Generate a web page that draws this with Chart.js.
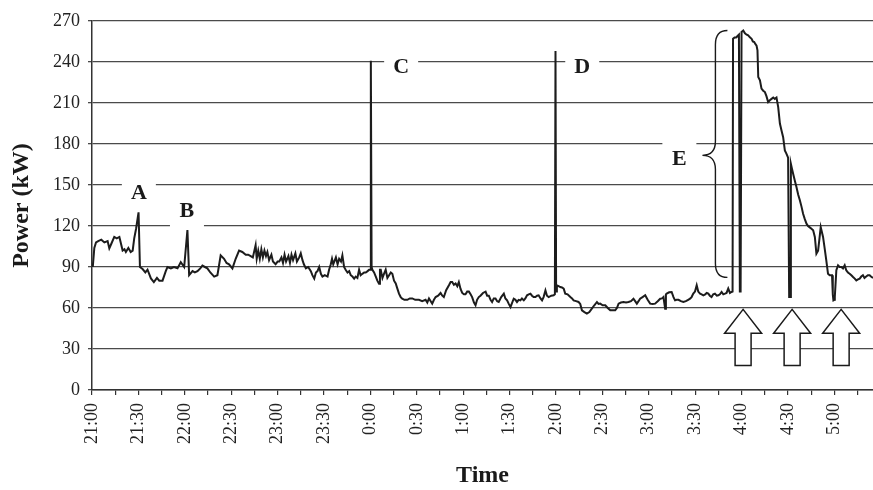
<!DOCTYPE html>
<html>
<head>
<meta charset="utf-8">
<script src="https://cdn.jsdelivr.net/npm/chart.js@4.4.1/dist/chart.umd.min.js"></script>
<style>
  html, body { margin: 0; padding: 0; background: #ffffff; }
  #c { display: block; }
</style>
</head>
<body>
<canvas id="c" width="873" height="490"></canvas>
<script>
// ---- data (minutes after 21:00, power in kW) ----
const minutes = [
  0.5, 1.5, 2.6, 4, 6, 8, 10.1, 11.2, 12.5, 14.4, 16, 17.7, 19.8, 21, 21.9, 23.5, 25, 26.3, 27.3, 28.5,
  30.1, 31, 32.7, 34.5, 35.9, 38.1, 40, 42, 43.5, 45.6, 47.7, 48.8, 51, 53, 55.3, 57.4, 59.6, 61.7, 62.8, 65,
  66.5, 68.2, 70, 71.4, 73, 74.6, 76.5, 79, 81.1, 83.2, 85.4, 87, 88.6, 90.8, 92.9, 95.1, 97.2, 99.4, 101, 102.6,
  104, 105.8, 106.5, 107.5, 108.5, 109.5, 110.5, 111.5, 112.5, 113.4, 114.5, 116, 117, 118.7, 120,
  121.1, 122.5, 123.5, 124.5, 125.5, 127, 128, 129, 130, 131.5, 132.5, 134, 135, 136.1, 137, 138.3, 139.8, 141.5, 142.5, 143.7,
  144.8, 145.8, 146.9, 148, 149, 150.5, 152.3, 153.3, 154.4, 155.2, 156, 157.7, 158.8, 159.8, 161, 161.9, 163, 164, 165.2, 166.3,
  167.3, 168.4, 169.5, 170.5, 171.6, 172.7, 173.7, 174.8, 176, 177, 178.2, 179.2, 179.8, 180.3, 180.8, 181.3, 182.4, 183.5, 184.5, 185.6,
  186.2, 186.7, 187.8, 188.8, 189.9, 191, 192.1, 193.2, 194.2, 195.3, 196.4, 197.5, 198.5, 199.6, 200.6, 202, 203.9, 205.5, 207.1, 209,
  211.4, 213.5, 215.7, 216.8, 217.9, 219, 220, 221.1, 222.2, 223.8, 225.4, 226.5, 227.5, 229, 230.8, 231.9, 232.9, 234, 235.1, 236.2,
  237.2, 238.3, 239.4, 240.5, 241.5, 242.6, 243.7, 244.8, 245.8, 247, 248, 249, 250.1,
  251.2, 252.8, 254.5, 255.5, 256.6, 257.7, 258.7, 259.8, 260.9, 262, 263, 264.6, 266.3, 267.3, 268.4, 269.5, 270.6, 271.7, 272.7, 273.8,
  274.8, 275.9, 277, 278, 279.2, 280.2, 281.3, 282.4, 283.5, 284.5, 285.6, 286.7, 287.8, 288.8, 290, 291, 292, 293.2, 294.2, 295.3,
  297, 298.5, 299.3, 299.7, 300.1, 300.6, 301.7, 302.8, 303.9, 305, 306, 307.5, 309.3, 310.4, 311.4, 313, 314.6, 315.7, 316.8, 318.4,
  320, 321.6, 323.2, 324.8, 326.5, 327.5, 328.6, 330.2, 331.9, 333.5, 335.1, 336.7, 338.3, 339.4, 340.5, 342, 343.7, 345.3, 346.9, 348.5,
  350.1, 351.2, 352.3, 353.4, 354.4, 356, 357.7, 359.3, 360.9, 362.5, 364.1, 365.8, 367.4, 368.5, 369.5, 370.6, 371.1, 371.6, 373.2, 374.8,
  376, 377, 378, 379.2, 380.8, 382.4, 384, 385.5, 386.7, 387.7, 388.8, 389.9, 391, 392, 393.2, 394.2, 395.3, 396.5, 397.5, 398.5,
  399.5, 400.6, 401.7, 402.8, 404, 405, 406, 407.1, 408.2, 409.3, 410.3, 411.4, 412.5, 413.5, 414.2, 414.5, 415.5, 416.5, 417.4, 418.3,
  418.9, 419.4, 420, 421.1, 422.2, 423.3, 424.3, 425.4, 426.5, 427.3, 428.2, 429, 429.7, 430.3, 430.8, 431.9, 432.9, 434, 435.1, 436.1,
  437.2, 438.3, 439.4, 440.5, 441.5, 442.6, 443.7, 444.8, 445.8, 446.9, 448, 449, 450.1, 450.8, 451.4, 451.9, 452.6, 453.4, 454.5, 455.5,
  456.6, 457.7, 458.8, 459.8, 460.9, 462, 463, 464.1, 465.2, 466.3, 467.4, 468.4, 469.5, 470.3, 471.2, 472.7, 473.7, 474.8, 475.9, 477,
  478.5, 479, 479.4, 480, 480.3, 481.3, 482.4, 483.4, 484.5, 485.6, 486.7, 487.7, 488.8, 489.9, 491, 492.1, 493.2, 494.2, 495.3, 496.4,
  497.4, 498.5, 499.5, 500.6, 501.7, 502.8, 503.7, 505
];
const powerKW = [
  90, 104, 108, 109, 110, 108, 109, 103.6, 107, 112, 111, 112, 102, 103, 101, 104, 101, 102, 111, 118,
  130, 90, 88.5, 86, 88, 81.6, 79, 82, 80, 80, 87, 90, 89, 90, 89, 93.6, 90, 117, 84, 87,
  86, 87, 89, 91, 90, 89, 86, 83, 84, 98.5, 96, 93, 92, 89, 96, 102, 101, 99, 99, 98,
  97, 106, 96, 102, 96, 103, 97, 102, 98, 101, 95, 99, 94, 92, 94,
  94, 97, 93, 99, 94, 98, 93, 99, 95, 100, 94, 97, 100, 95, 92, 89, 90, 87, 84, 81.5,
  86, 87, 90, 85, 83, 84, 83, 88, 92, 96, 92, 97, 92, 96, 94, 98.5, 90, 88, 86, 87,
  84, 83, 81.5, 83, 82, 88, 84, 85, 86, 86, 87, 88, 88, 241, 90, 88, 86, 83, 80, 77.8,
  88, 88, 82, 85, 88, 82, 84, 86, 85, 80, 78, 74, 70.5, 68, 66.8, 66, 66, 67, 67, 66,
  66, 65, 66, 64, 67, 65, 63.2, 66, 68, 69, 71, 69, 68, 73, 76.6, 79, 79, 77, 78, 76,
  79, 74, 71, 70, 70, 72, 72, 70, 68, 64, 62, 66, 68,
  69, 71, 72, 69, 69, 66, 64.4, 67, 67, 65, 64.4, 68, 70.5, 67, 65.6, 63, 60.7, 64, 66.8, 66,
  64.4, 66, 65.6, 67, 65.6, 67, 69.3, 70, 70.5, 69, 68, 68, 69, 69.3, 67, 65.6, 68, 72.9, 69, 68,
  69, 69.3, 70, 248, 72, 76.6, 76, 75.3, 75, 74.2, 70.5, 70, 68, 67, 65.6, 65, 64.4, 63, 58.3, 57,
  55.9, 57, 59.5, 62, 64.4, 63, 63.2, 62, 62, 60, 58.3, 58.3, 58.3, 60, 63.2, 64, 64.4, 64, 64.4, 65,
  66.8, 65, 63.2, 65, 66.8, 68, 69.3, 66, 63.2, 63, 63.2, 65, 66.8, 67, 68, 59.5, 70, 70.5, 71.5, 71.7,
  68, 65.6, 66, 66, 65, 64.4, 65, 66, 66.8, 68, 70.5, 72, 76.6, 72, 70.5, 70, 69.3, 70, 71, 70.5,
  69, 68, 70, 70.5, 69, 69.3, 70, 71.7, 70, 70.5, 71, 74.2, 71, 71.7, 72, 257, 258, 258, 259, 260,
  72, 72, 262, 263, 261, 260, 259.5, 258, 257, 255, 254.6, 253, 252, 248.5, 229, 226.6, 220.5, 219, 218, 215,
  210.7, 212, 213, 214, 213, 214, 207, 195, 190, 185, 175.3, 173, 170, 68, 68, 165.6, 162, 158, 153, 148.5,
  143, 138.8, 134, 129, 125, 121.7, 120, 119, 118, 116.8, 112, 99.8, 102, 110, 119.2, 112, 104, 94.9, 85.1, 84,
  84, 70, 65.6, 66, 68, 87.6, 91.2, 90, 90, 89, 91.2, 87.6, 86, 85.1, 84, 82.7, 81.5, 80.2, 81, 81.5,
  83, 84, 82, 83, 84, 84, 83, 82
];
const tickLabels = ['21:00','21:30','22:00','22:30','23:00','23:30','0:00','0:30','1:00',
                    '1:30','2:00','2:30','3:00','3:30','4:00','4:30','5:00'];
const yTicks = [0, 30, 60, 90, 120, 150, 180, 210, 240, 270];

// ---- annotations (data coordinates) ----
const letterText = ['A', 'B', 'C', 'D', 'E'];
const letterMin  = [30.3, 61.4, 199.9, 317, 379.8];
const letterKW   = [144.5, 131.5, 237, 237, 169.5];
const arrowMin   = [421.0, 452.7, 484.4];
const arrowTopKW = 59;
const arrowBottomKW = 18;
const braceMin = 394.7;       // tip of brace
const braceTopKW = 263;
const braceMidKW = 171.7;
const braceBottomKW = 82.4;

const SERIF = '"Liberation Serif", "Times New Roman", serif';

const annotPlugin = {
  id: 'annot',
  beforeDatasetsDraw(chart) {
    const { ctx, scales: { x, y } } = chart;
    ctx.save();
    // letters with white boxes interrupting gridlines
    ctx.font = 'bold 22px ' + SERIF;
    ctx.textAlign = 'center';
    ctx.textBaseline = 'middle';
    letterText.forEach((t, i) => {
      const px = x.getPixelForValue(letterMin[i]);
      const py = y.getPixelForValue(letterKW[i]);
      ctx.fillStyle = '#ffffff';
      ctx.fillRect(px - 17, py - 20, 34, 40);
      ctx.fillStyle = '#1a1a1a';
      ctx.fillText(t, px, py + 1);
    });
    // arrows
    ctx.lineWidth = 1.5;
    ctx.strokeStyle = '#1a1a1a';
    ctx.fillStyle = '#ffffff';
    arrowMin.forEach(m => {
      const cx = x.getPixelForValue(m);
      const top = y.getPixelForValue(arrowTopKW);
      const bot = y.getPixelForValue(arrowBottomKW);
      const headBase = top + 24;
      ctx.beginPath();
      ctx.moveTo(cx, top);
      ctx.lineTo(cx + 18.5, headBase);
      ctx.lineTo(cx + 8, headBase);
      ctx.lineTo(cx + 8, bot);
      ctx.lineTo(cx - 8, bot);
      ctx.lineTo(cx - 8, headBase);
      ctx.lineTo(cx - 18.5, headBase);
      ctx.closePath();
      ctx.fill();
      ctx.stroke();
    });
    // brace
    const tipX = x.getPixelForValue(braceMin);
    const spineX = tipX + 13;
    const endX = tipX + 25;
    const top = y.getPixelForValue(braceTopKW);
    const mid = y.getPixelForValue(braceMidKW);
    const bot = y.getPixelForValue(braceBottomKW);
    ctx.beginPath();
    ctx.lineWidth = 1.4;
    ctx.moveTo(endX, top);
    ctx.quadraticCurveTo(spineX, top, spineX, top + 14);
    ctx.lineTo(spineX, mid - 14);
    ctx.quadraticCurveTo(spineX, mid, tipX, mid);
    ctx.quadraticCurveTo(spineX, mid, spineX, mid + 14);
    ctx.lineTo(spineX, bot - 14);
    ctx.quadraticCurveTo(spineX, bot, endX, bot);
    ctx.stroke();
    ctx.restore();
  }
};

const bgPlugin = {
  id: 'bg',
  beforeDraw(chart) {
    const { ctx, width, height } = chart;
    ctx.save();
    ctx.fillStyle = '#ffffff';
    ctx.fillRect(0, 0, width, height);
    ctx.restore();
  }
};

new Chart(document.getElementById('c'), {
  type: 'line',
  data: {
    datasets: [{
      data: minutes.map((m, i) => ({ x: m, y: powerKW[i] })),
      borderColor: '#1c1c1c',
      borderWidth: 2,
      pointRadius: 0,
      tension: 0,
      fill: false
    }]
  },
  options: {
    responsive: false,
    animation: false,
    layout: { padding: { top: 21, right: 0, left: 0, bottom: 0 } },
    plugins: { legend: { display: false }, tooltip: { enabled: false } },
    scales: {
      x: {
        type: 'linear',
        min: 0,
        max: 505,
        grid: { display: true, drawOnChartArea: false, drawTicks: true, tickLength: 5, color: '#333', lineWidth: 1.2 },
        border: { display: true, color: '#333', width: 1.5 },
        ticks: {
          stepSize: 15,
          autoSkip: false,
          includeBounds: false,
          minRotation: 90,
          maxRotation: 90,
          padding: 8,
          color: '#222',
          font: { family: SERIF, size: 18 },
          callback: (v) => {
            const r = Math.round(v);
            return r % 30 === 0 ? tickLabels[r / 30] : '';
          }
        },
        title: {
          display: true,
          text: 'Time',
          color: '#1a1a1a',
          font: { family: SERIF, size: 24, weight: 'bold' },
          padding: { top: 0, bottom: 0 }
        },
        afterFit: (s) => { s.height = 100; s.paddingLeft = 0; s.paddingRight = 0; }
      },
      y: {
        min: 0,
        max: 270,
        grid: { color: '#4a4a4a', lineWidth: 1.3, tickLength: 4, drawTicks: true },
        border: { display: true, color: '#333', width: 1.5 },
        afterBuildTicks: (s) => { s.ticks = yTicks.map(v => ({ value: v })); },
        ticks: {
          padding: 8,
          color: '#222',
          font: { family: SERIF, size: 18 }
        },
        title: {
          display: true,
          text: 'Power (kW)',
          color: '#1a1a1a',
          font: { family: SERIF, size: 24, weight: 'bold' },
          padding: { top: 7, bottom: 0 }
        },
        afterFit: (s) => { s.width = 92; s.paddingTop = 0; s.paddingBottom = 0; }
      }
    }
  },
  plugins: [bgPlugin, annotPlugin]
});
</script>
</body>
</html>
